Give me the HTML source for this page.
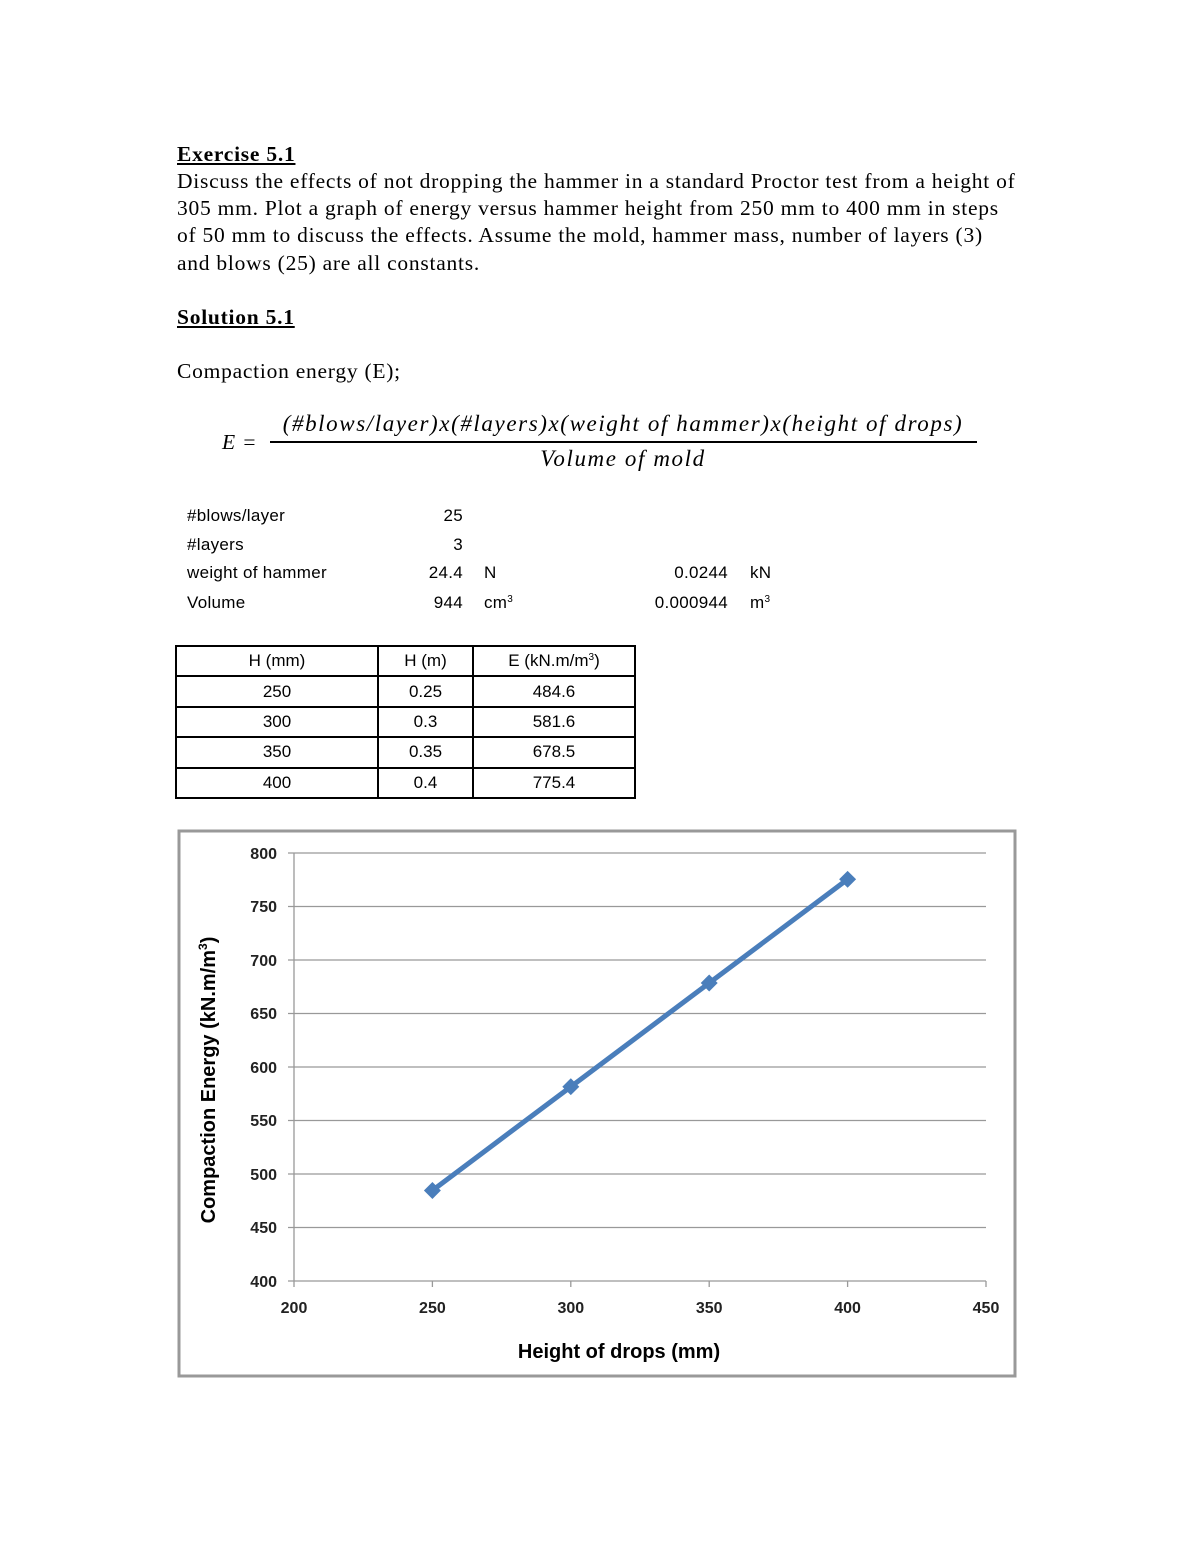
<!DOCTYPE html>
<html><head><meta charset="utf-8"><style>
body{margin:0;width:1200px;height:1553px;background:#fff;position:relative;font-family:"Liberation Serif",serif;color:#000}
.t{position:absolute;font-size:21.5px;line-height:27px;white-space:nowrap;letter-spacing:0.75px}
.s{position:absolute;font-family:"Liberation Sans",sans-serif;font-size:17px;white-space:nowrap;letter-spacing:0.3px}
.r{text-align:right}
table{position:absolute;left:175px;top:645px;border-collapse:collapse;font-family:"Liberation Sans",sans-serif;font-size:17px}
td{border:2px solid #000;height:28.4px;padding:0;text-align:center}
sup{font-size:10px;vertical-align:6px;line-height:0}
</style></head><body>
<div class="t" style="left:177px;top:141px;font-weight:bold;text-decoration:underline">Exercise 5.1</div>
<div class="t" style="left:177px;top:168px">Discuss the effects of not dropping the hammer in a standard Proctor test from a height of</div>
<div class="t" style="left:177px;top:195px">305 mm. Plot a graph of energy versus hammer height from 250 mm to 400 mm in steps</div>
<div class="t" style="left:177px;top:222px">of 50 mm to discuss the effects. Assume the mold, hammer mass, number of layers (3)</div>
<div class="t" style="left:177px;top:250px">and blows (25) are all constants.</div>
<div class="t" style="left:177px;top:304px;font-weight:bold;text-decoration:underline">Solution 5.1</div>
<div class="t" style="left:177px;top:358px">Compaction energy (E);</div>
<div class="t" style="left:222px;top:429px;font-style:italic">E =</div>
<div class="t" style="left:270px;top:410px;font-style:italic;font-size:23px;letter-spacing:1.6px;width:706px;text-align:center">(#blows/layer)x(#layers)x(weight of hammer)x(height of drops)</div>
<div style="position:absolute;left:270px;top:441px;width:707px;height:2px;background:#000"></div>
<div class="t" style="left:270px;top:445px;font-style:italic;font-size:23px;letter-spacing:1.6px;width:706px;text-align:center">Volume of mold</div>
<div class="s" style="left:187px;top:506px">#blows/layer</div>
<div class="s" style="left:187px;top:535px">#layers</div>
<div class="s" style="left:187px;top:563px">weight of hammer</div>
<div class="s" style="left:187px;top:593px">Volume</div>
<div class="s r" style="left:400px;width:63px;top:506px">25</div>
<div class="s r" style="left:400px;width:63px;top:535px">3</div>
<div class="s r" style="left:400px;width:63px;top:563px">24.4</div>
<div class="s r" style="left:400px;width:63px;top:593px">944</div>
<div class="s" style="left:484px;top:563px">N</div>
<div class="s" style="left:484px;top:593px">cm<sup>3</sup></div>
<div class="s r" style="left:600px;width:128px;top:563px">0.0244</div>
<div class="s r" style="left:600px;width:128px;top:593px">0.000944</div>
<div class="s" style="left:750px;top:563px">kN</div>
<div class="s" style="left:750px;top:593px">m<sup>3</sup></div>
<table>
<tr><td style="width:200px">H (mm)</td><td style="width:93px">H (m)</td><td style="width:160px">E (kN.m/m<sup>3</sup>)</td></tr>
<tr><td>250</td><td>0.25</td><td>484.6</td></tr>
<tr><td>300</td><td>0.3</td><td>581.6</td></tr>
<tr><td>350</td><td>0.35</td><td>678.5</td></tr>
<tr><td>400</td><td>0.4</td><td>775.4</td></tr>
</table>
<svg style="position:absolute;left:0;top:0" width="1200" height="1553" font-family="Liberation Sans,sans-serif">
<rect x="179" y="831" width="836" height="545" fill="none" stroke="#999" stroke-width="3"/>
<g stroke="#999" stroke-width="1.3">
<line x1="288" y1="853" x2="986" y2="853"/><line x1="288" y1="906.5" x2="986" y2="906.5"/>
<line x1="288" y1="960" x2="986" y2="960"/><line x1="288" y1="1013.5" x2="986" y2="1013.5"/>
<line x1="288" y1="1067" x2="986" y2="1067"/><line x1="288" y1="1120.5" x2="986" y2="1120.5"/>
<line x1="288" y1="1174" x2="986" y2="1174"/><line x1="288" y1="1227.5" x2="986" y2="1227.5"/>
<line x1="288" y1="1281" x2="986" y2="1281"/>
<line x1="294" y1="853" x2="294" y2="1281"/>
<line x1="294" y1="1281" x2="294" y2="1287"/><line x1="432.4" y1="1281" x2="432.4" y2="1287"/>
<line x1="570.8" y1="1281" x2="570.8" y2="1287"/><line x1="709.2" y1="1281" x2="709.2" y2="1287"/>
<line x1="847.6" y1="1281" x2="847.6" y2="1287"/><line x1="986" y1="1281" x2="986" y2="1287"/>
</g>
<g font-size="16" font-weight="bold" text-anchor="end" fill="#222">
<text x="277" y="859">800</text><text x="277" y="912">750</text><text x="277" y="966">700</text>
<text x="277" y="1019">650</text><text x="277" y="1073">600</text><text x="277" y="1126">550</text>
<text x="277" y="1180">500</text><text x="277" y="1233">450</text><text x="277" y="1287">400</text>
</g>
<g font-size="16" font-weight="bold" text-anchor="middle" fill="#222">
<text x="294" y="1313">200</text><text x="432.4" y="1313">250</text><text x="570.8" y="1313">300</text>
<text x="709.2" y="1313">350</text><text x="847.6" y="1313">400</text><text x="986" y="1313">450</text>
</g>
<text x="619" y="1358" font-size="20" font-weight="bold" text-anchor="middle">Height of drops (mm)</text>
<text transform="translate(215,1080) rotate(-90)" font-size="20" font-weight="bold" text-anchor="middle">Compaction Energy (kN.m/m<tspan font-size="12" dy="-8">3</tspan><tspan dy="8">)</tspan></text>
<polyline points="432.4,1190.5 570.8,1086.7 709.2,983 847.6,879.3" fill="none" stroke="#4a7ebb" stroke-width="5"/>
<g fill="#4a7ebb">
<rect x="426.4" y="1184.5" width="12" height="12" transform="rotate(45 432.4 1190.5)"/>
<rect x="564.8" y="1080.7" width="12" height="12" transform="rotate(45 570.8 1086.7)"/>
<rect x="703.2" y="977" width="12" height="12" transform="rotate(45 709.2 983)"/>
<rect x="841.6" y="873.3" width="12" height="12" transform="rotate(45 847.6 879.3)"/>
</g>
</svg>
</body></html>
